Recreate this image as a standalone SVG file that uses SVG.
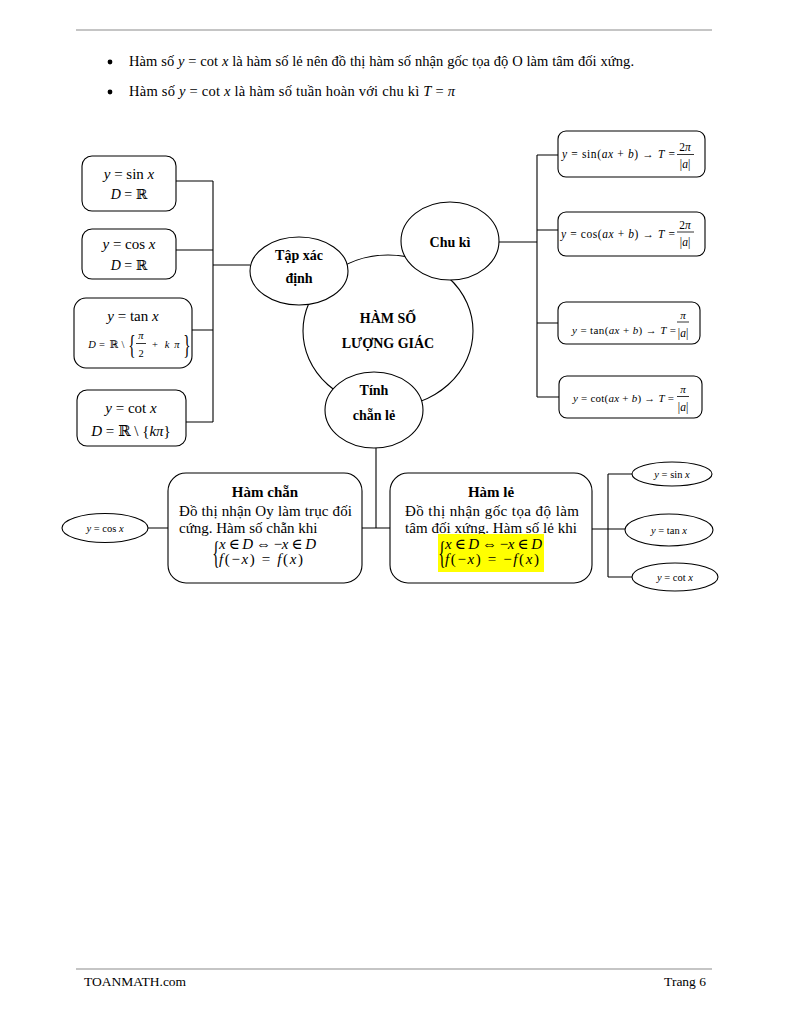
<svg xmlns="http://www.w3.org/2000/svg" width="792" height="1024" viewBox="0 0 792 1024">
<style>
.t{font-family:"Liberation Serif","Times New Roman","DejaVu Serif",serif;fill:#000}
.b{font-weight:bold}
.i{font-style:italic}
.box{fill:#fff;stroke:#000;stroke-width:1.1}
.ln{fill:none;stroke:#000;stroke-width:1.1}
.rule{stroke:#8c8c8c;stroke-width:1.2}
.m15{font-size:15px}
.m10{font-size:10px}
.m11{font-size:10.5px}
.p{font-size:11.5px}
.c{text-anchor:middle}
</style>
<rect width="792" height="1024" fill="#fff"/>

<!-- header -->
<line class="rule" x1="76" y1="30" x2="712" y2="30"/>
<circle cx="110" cy="62" r="2.4" fill="#000"/>
<circle cx="110" cy="92" r="2.4" fill="#000"/>
<text class="t" x="129" y="66" font-size="14.5" textLength="505" lengthAdjust="spacing">Hàm số <tspan class="i">y</tspan> = cot <tspan class="i">x</tspan> là hàm số lẻ nên đồ thị hàm số nhận gốc tọa độ O làm tâm đối xứng.</text>
<text class="t" x="129" y="96" font-size="14.5" textLength="326" lengthAdjust="spacing">Hàm số <tspan class="i">y</tspan> = cot <tspan class="i">x</tspan> là hàm số tuần hoàn với chu kì <tspan class="i">T</tspan> = <tspan class="i">π</tspan></text>

<!-- connectors -->
<g id="connectors">
<path class="ln" d="M176,181 H213 M176,250 H213 M192,330 H213 M186,422 H213 M213,181 V422 M213,265 H250"/>
<path class="ln" d="M499,242 H537 M537,155 V397 M537,155 H558 M537,230 H558 M537,323 H558 M537,397 H559"/>
<path class="ln" d="M376,448 V528 M362,528 H390 M148,528 H168"/>
<path class="ln" d="M592,529 H608 M608,474 V577 M608,474 H632 M608,529 H625 M608,577 H632"/>
</g>

<!-- left domain boxes -->
<g id="box-sin">
<rect class="box" x="82" y="156" width="94" height="55" rx="10"/>
<text class="t m15 c" x="129" y="179"><tspan class="i">y</tspan> = sin <tspan class="i">x</tspan></text>
<text class="t c" x="129" y="199" font-size="14"><tspan class="i">D</tspan> = ℝ</text>
</g>
<g id="box-cos">
<rect class="box" x="82" y="229" width="94" height="50" rx="10"/>
<text class="t m15 c" x="129" y="249"><tspan class="i">y</tspan> = cos <tspan class="i">x</tspan></text>
<text class="t c" x="129" y="270" font-size="14"><tspan class="i">D</tspan> = ℝ</text>
</g>
<g id="box-tan">
<rect class="box" x="74" y="298" width="118" height="70" rx="12"/>
<text class="t m15 c" x="133" y="321"><tspan class="i">y</tspan> = tan <tspan class="i">x</tspan></text>
<g class="t" font-size="10.5">
<text class="i c" x="92" y="348">D</text>
<text class="c" x="102" y="348">=</text>
<text class="c" x="114" y="348">ℝ</text>
<text class="c" x="123" y="348">\</text>
<text transform="translate(132,354) scale(0.55,1)" class="c" font-size="28">{</text>
<text class="i c" x="141" y="339">π</text>
<line x1="136" y1="343.5" x2="146" y2="343.5" stroke="#000" stroke-width="0.8"/>
<text class="c" x="141" y="357">2</text>
<text class="c" x="155" y="348">+</text>
<text class="i c" x="167" y="348">k</text>
<text class="i c" x="177" y="348">π</text>
<text transform="translate(187,354) scale(0.55,1)" class="c" font-size="28">}</text>
</g>
</g>
<g id="box-cot">
<rect class="box" x="77" y="390" width="109" height="56" rx="10"/>
<text class="t m15 c" x="131" y="413"><tspan class="i">y</tspan> = cot <tspan class="i">x</tspan></text>
<text class="t m15 c" x="131" y="436"><tspan class="i">D</tspan> = ℝ \ {<tspan class="i">kπ</tspan>}</text>
</g>

<!-- centre -->
<g id="node-main">
<ellipse class="box" cx="388" cy="331" rx="85" ry="76"/>
<text class="t b c" x="388" y="323" font-size="14">HÀM SỐ</text>
<text class="t b c" x="388" y="348" font-size="14">LƯỢNG GIÁC</text>
</g>
<g id="node-txd">
<ellipse class="box" cx="299" cy="271" rx="49" ry="34"/>
<text class="t b c" x="299" y="260" font-size="14">Tập xác</text>
<text class="t b c" x="299" y="283" font-size="14">định</text>
</g>
<g id="node-chuki">
<ellipse class="box" cx="450" cy="241" rx="49" ry="39"/>
<text class="t b c" x="450" y="247" font-size="14">Chu kì</text>
</g>
<g id="node-chanle">
<ellipse class="box" cx="374" cy="410" rx="49" ry="38"/>
<text class="t b c" x="374" y="395" font-size="14">Tính</text>
<text class="t b c" x="374" y="420" font-size="14">chẵn lẻ</text>
</g>

<!-- period boxes -->
<g id="box-psin">
<rect class="box" x="558" y="131" width="147" height="46" rx="8"/>
<text class="t p" x="562" y="158" textLength="113" lengthAdjust="spacing"><tspan class="i">y</tspan> = sin(<tspan class="i">ax</tspan> + <tspan class="i">b</tspan>) → <tspan class="i">T</tspan> =</text>
<text class="t p c" x="685" y="151">2<tspan class="i">π</tspan></text>
<line x1="677" y1="154.5" x2="694" y2="154.5" stroke="#000" stroke-width="0.8"/>
<text class="t p c" x="685" y="168">|<tspan class="i">a</tspan>|</text>
</g>
<g id="box-pcos">
<rect class="box" x="558" y="212" width="147" height="44" rx="8"/>
<text class="t p" x="561" y="238" textLength="114" lengthAdjust="spacing"><tspan class="i">y</tspan> = cos(<tspan class="i">ax</tspan> + <tspan class="i">b</tspan>) → <tspan class="i">T</tspan> =</text>
<text class="t p c" x="685" y="229">2<tspan class="i">π</tspan></text>
<line x1="677" y1="232" x2="694" y2="232" stroke="#000" stroke-width="0.8"/>
<text class="t p c" x="685" y="246">|<tspan class="i">a</tspan>|</text>
</g>
<g id="box-ptan">
<rect class="box" x="558" y="302" width="142" height="42" rx="8"/>
<text class="t" font-size="11" x="572" y="334" textLength="104" lengthAdjust="spacing"><tspan class="i">y</tspan> = tan(<tspan class="i">ax</tspan> + <tspan class="i">b</tspan>) → <tspan class="i">T</tspan> =</text>
<text class="t c i" font-size="11" x="683" y="319">π</text>
<line x1="677" y1="322" x2="689" y2="322" stroke="#000" stroke-width="0.8"/>
<text class="t p c" x="683" y="337">|<tspan class="i">a</tspan>|</text>
</g>
<g id="box-pcot">
<rect class="box" x="559" y="376" width="143" height="42" rx="8"/>
<text class="t" font-size="11" x="573" y="402" textLength="101" lengthAdjust="spacing"><tspan class="i">y</tspan> = cot(<tspan class="i">ax</tspan> + <tspan class="i">b</tspan>) → <tspan class="i">T</tspan> =</text>
<text class="t c i" font-size="11" x="683" y="393">π</text>
<line x1="677" y1="396.5" x2="689" y2="396.5" stroke="#000" stroke-width="0.8"/>
<text class="t p c" x="683" y="411">|<tspan class="i">a</tspan>|</text>
</g>

<!-- even -->
<g id="box-even">
<rect class="box" x="168" y="473" width="194" height="110" rx="18"/>
<text class="t b c" x="265" y="497" font-size="15">Hàm chẵn</text>
<text class="t" x="179" y="516" font-size="15" textLength="173" lengthAdjust="spacing">Đồ thị nhận Oy làm trục đối</text>
<text class="t" x="179" y="533" font-size="15">cứng. Hàm số chẵn khi</text>
<text class="t c" transform="translate(216,564) scale(0.5,1)" font-size="31">{</text>
<text class="t" x="219" y="549" font-size="15" textLength="97" lengthAdjust="spacing"><tspan class="i">x</tspan> ∈ <tspan class="i">D</tspan> ⇔ −<tspan class="i">x</tspan> ∈ <tspan class="i">D</tspan></text>
<text class="t" x="219" y="564" font-size="15" textLength="84" lengthAdjust="spacing"><tspan class="i">f</tspan>(−<tspan class="i">x</tspan>) = <tspan class="i">f</tspan>(<tspan class="i">x</tspan>)</text>
</g>
<g id="node-cos">
<ellipse class="box" cx="105" cy="528" rx="43" ry="14.5"/>
<text class="t m11 c" x="105" y="532"><tspan class="i">y</tspan> = cos <tspan class="i">x</tspan></text>
</g>

<!-- odd -->
<g id="box-odd">
<rect class="box" x="390" y="473" width="202" height="110" rx="18"/>
<text class="t b c" x="491" y="497" font-size="15">Hàm lẻ</text>
<text class="t" x="405" y="516" font-size="15" textLength="174" lengthAdjust="spacing">Đồ thị nhận gốc tọa độ làm</text>
<text class="t" x="405" y="533" font-size="15" textLength="172" lengthAdjust="spacing">tâm đối xứng. Hàm số lẻ khi</text>
<rect x="438" y="534" width="106" height="38" fill="#ffff00"/>
<text class="t c" transform="translate(442,564) scale(0.5,1)" font-size="31">{</text>
<text class="t" x="445" y="549" font-size="15" textLength="97" lengthAdjust="spacing"><tspan class="i">x</tspan> ∈ <tspan class="i">D</tspan> ⇔ −<tspan class="i">x</tspan> ∈ <tspan class="i">D</tspan></text>
<text class="t" x="445" y="564" font-size="15" textLength="94" lengthAdjust="spacing"><tspan class="i">f</tspan>(−<tspan class="i">x</tspan>) = −<tspan class="i">f</tspan>(<tspan class="i">x</tspan>)</text>
</g>
<g id="node-osin">
<ellipse class="box" cx="672" cy="474" rx="40" ry="12"/>
<text class="t m11 c" x="672" y="478"><tspan class="i">y</tspan> = sin <tspan class="i">x</tspan></text>
</g>
<g id="node-otan">
<ellipse class="box" cx="669" cy="530" rx="44" ry="16"/>
<text class="t m11 c" x="669" y="534"><tspan class="i">y</tspan> = tan <tspan class="i">x</tspan></text>
</g>
<g id="node-ocot">
<ellipse class="box" cx="675" cy="577" rx="43" ry="14"/>
<text class="t m11 c" x="675" y="581"><tspan class="i">y</tspan> = cot <tspan class="i">x</tspan></text>
</g>

<!-- footer -->
<line class="rule" x1="76" y1="969" x2="712" y2="969"/>
<text class="t" x="84" y="986" font-size="13.5">TOANMATH.com</text>
<text class="t" x="706" y="986" font-size="13.5" text-anchor="end">Trang 6</text>
</svg>
